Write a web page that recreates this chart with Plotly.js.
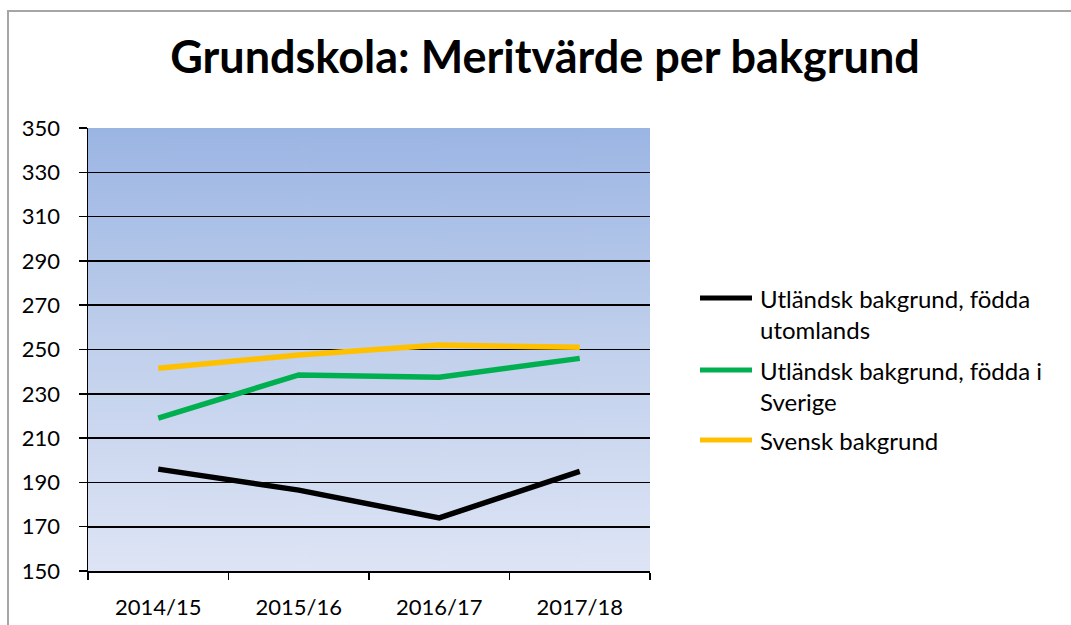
<!DOCTYPE html>
<html>
<head>
<meta charset="utf-8">
<script src="https://cdn.plot.ly/plotly-3.0.1.min.js"></script>
<style>
  html, body { margin: 0; padding: 0; background: #ffffff; }
  #chart { width: 1071px; height: 625px; position: relative; }
  #frame { position: absolute; left: 7px; top: 10px; width: 1080px; height: 640px;
           border-left: 2px solid #a6a6a6; border-top: 2px solid #a6a6a6; pointer-events: none; }
</style>
</head>
<body>
<div id="chart"></div>
<div id="frame"></div>
<script>
// ---- data ----
const categories = ['2014/15', '2015/16', '2016/17', '2017/18'];
const seriesNames = [
  'Utländsk bakgrund, födda<br>utomlands',
  'Utländsk bakgrund, födda i<br>Sverige',
  'Svensk bakgrund'
];
const utlandskFoddaUtomlands = [196, 186.5, 174, 195];
const utlandskFoddaISverige = [219, 238.5, 237.5, 246];
const svenskBakgrund = [241.5, 247.5, 252, 251];
const seriesColors = ['#000000', '#00b050', '#ffc000'];
const yTickVals = [150, 170, 190, 210, 230, 250, 270, 290, 310, 330, 350];

// ---- gradient background for plot area ----
function gradientURL() {
  const c = document.createElement('canvas');
  c.width = 4; c.height = 443;
  const g = c.getContext('2d');
  const grad = g.createLinearGradient(0, 0, 0, 443);
  grad.addColorStop(0, '#9bb5e3');
  grad.addColorStop(0.5, '#c1d0ec');
  grad.addColorStop(1, '#dde4f5');
  g.fillStyle = grad;
  g.fillRect(0, 0, 4, 443);
  return c.toDataURL('image/png');
}

const W = 1071, H = 625;
const M = {l: 88, r: 421, t: 128, b: 54};
const PW = W - M.l - M.r, PH = H - M.t - M.b;
const px = x => (x - M.l) / PW;
const py = y => (H - M.b - y) / PH;

const allSeries = [utlandskFoddaUtomlands, utlandskFoddaISverige, svenskBakgrund];
const traces = allSeries.map((vals, i) => ({
  x: categories,
  y: vals,
  type: 'scatter',
  mode: 'lines',
  name: seriesNames[i],
  line: {color: seriesColors[i], width: 5.5},
  showlegend: false,
  hoverinfo: 'x+y'
}));

// custom legend (matches the reference's long line samples)
const legendY = [298, 370, 440];
const shapes = [];
const annotations = [];
legendY.forEach((y, i) => {
  shapes.push({type: 'line', xref: 'paper', yref: 'paper',
    x0: px(700), x1: px(752), y0: py(y), y1: py(y),
    line: {color: seriesColors[i], width: 5}});
  annotations.push({xref: 'paper', yref: 'paper', x: px(758), y: py(y - 16),
    xanchor: 'left', yanchor: 'top', align: 'left', showarrow: false,
    text: seriesNames[i], font: {family: 'Lato, sans-serif', size: 24, color: '#000000'}});
});

const font = {family: 'Lato, sans-serif', size: 22, color: '#000000'};
const layout = {
  width: W, height: H,
  margin: M,
  paper_bgcolor: '#ffffff',
  plot_bgcolor: 'rgba(0,0,0,0)',
  font: font,
  title: {
    text: '<b>Grundskola: Meritvärde per bakgrund</b>',
    font: {family: 'Lato, sans-serif', size: 45, color: '#000000'},
    x: 545 / W, xanchor: 'center', xref: 'container',
    y: 1 - 57 / H, yanchor: 'middle', yref: 'container'
  },
  xaxis: {
    type: 'category',
    range: [-0.5, 3.5],
    tickson: 'boundaries',
    ticks: 'outside', ticklen: 7, tickwidth: 1.5, tickcolor: '#000000',
    showline: true, linecolor: '#000000', linewidth: 1.5,
    showgrid: false, zeroline: false,
    ticklabelstandoff: 16,
    tickfont: font,
    fixedrange: true
  },
  yaxis: {
    range: [150, 350],
    tickvals: yTickVals,
    ticktext: yTickVals.map(String),
    ticks: 'outside', ticklen: 8, tickwidth: 1.5, tickcolor: '#000000',
    showline: true, linecolor: '#000000', linewidth: 1.5, mirror: false,
    showgrid: true, gridcolor: '#000000', gridwidth: 1.6,
    zeroline: false,
    ticklabelstandoff: 14,
    tickfont: font,
    fixedrange: true
  },
  images: [{
    source: gradientURL(), xref: 'paper', yref: 'paper',
    x: 0, y: 1, sizex: 1, sizey: 1, sizing: 'stretch',
    xanchor: 'left', yanchor: 'top', layer: 'below'
  }],
  shapes: shapes,
  annotations: annotations,
  showlegend: false
};

Plotly.newPlot('chart', traces, layout, {displayModeBar: false, staticPlot: true});
</script>
</body>
</html>
